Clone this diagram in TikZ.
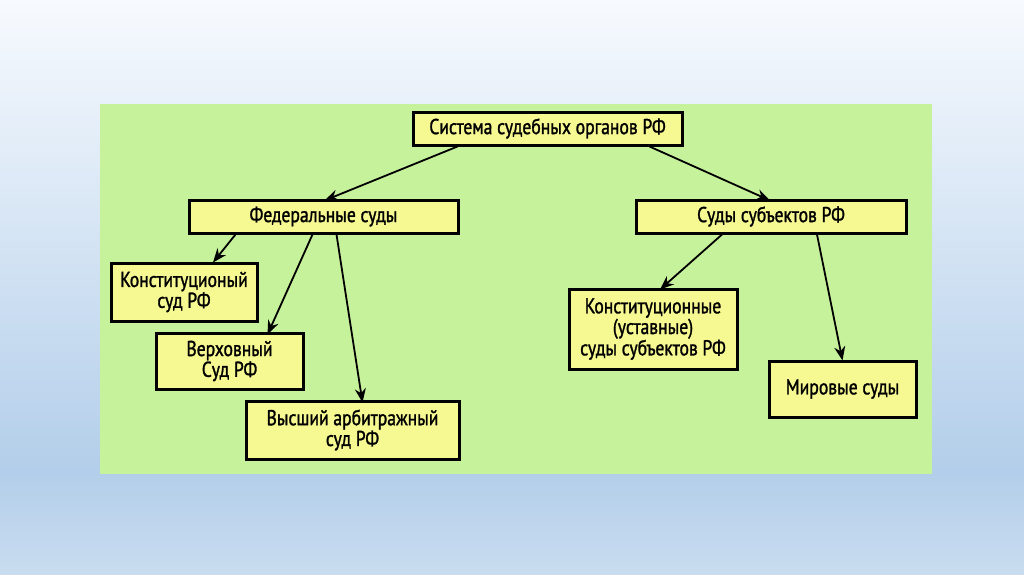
\documentclass[tikz,border=0pt]{standalone}
\usepackage{fontspec}
\setmainfont[FakeStretch=0.82,FakeBold=1.3]{PT Sans}
\usetikzlibrary{arrows.meta}
\definecolor{boxfill}{HTML}{F6F892}
\definecolor{panel}{HTML}{C6F29C}
\definecolor{skytop}{HTML}{F7FAFE}
\definecolor{skybot}{HTML}{B3CEEA}
\definecolor{skyend}{HTML}{C9DCEF}

\begin{document}
\begin{tikzpicture}[x=1pt,y=-1pt,
  court/.style={draw=black,line width=3pt,fill=boxfill,inner sep=1pt,
    align=center,font=\fontsize{21.5}{19.5}\selectfont},
  link/.style={line width=1.8pt,-{Stealth[length=14pt,width=11pt]}}]
\useasboundingbox (0,0) rectangle (1024,574);
% background
\shade[top color=skytop,bottom color=skybot] (0,0) rectangle (1024,472);
\shade[top color=skybot,bottom color=skyend] (0,472) rectangle (1024,574);
\fill[panel] (100,104) rectangle (932,474);
% boxes
\node[court,minimum width=269pt,minimum height=33pt] (sys) at (547.5,128.5) {Система судебных органов РФ};
\node[court,minimum width=269pt,minimum height=33pt] (fed) at (323.5,216.5) {Федеральные суды};
\node[court,minimum width=270pt,minimum height=33pt] (subj) at (771,216.5) {Суды субъектов РФ};
\node[court,minimum width=146pt,minimum height=58pt] (konst) at (184,292) {Конституционый\\суд РФ};
\node[court,minimum width=147pt,minimum height=56pt] (verh) at (229.5,361) {Верховный\\Суд РФ};
\node[court,minimum width=213pt,minimum height=58pt] (arb) at (352.5,430) {Высший арбитражный\\суд РФ};
\node[court,minimum width=168pt,minimum height=80pt] (ustav) at (653,329) {Конституционные\\(уставные)\\суды субъектов РФ};
\node[court,minimum width=147pt,minimum height=56pt] (mir) at (842.5,389) {Мировые суды};
% arrows
\draw[link] ([xshift=-90pt]sys.south) -- ([xshift=1pt,yshift=-2pt]fed.north);
\draw[link] ([xshift=102pt]sys.south) -- ([xshift=-1pt,yshift=-2pt]subj.north);
\draw[link] ([xshift=-88pt]fed.south) -- ([xshift=29pt,yshift=-1pt]konst.north);
\draw[link] ([xshift=-11pt]fed.south) -- ([xshift=38pt,yshift=-3pt]verh.north);
\draw[link] ([xshift=13pt]fed.south) -- ([xshift=10pt,yshift=-3pt]arb.north);
\draw[link] ([xshift=-49pt]subj.south) -- ([xshift=7pt,yshift=-2pt]ustav.north);
\draw[link] ([xshift=46pt]subj.south) -- ([xshift=0pt,yshift=-1pt]mir.north);
\end{tikzpicture}
\end{document}
